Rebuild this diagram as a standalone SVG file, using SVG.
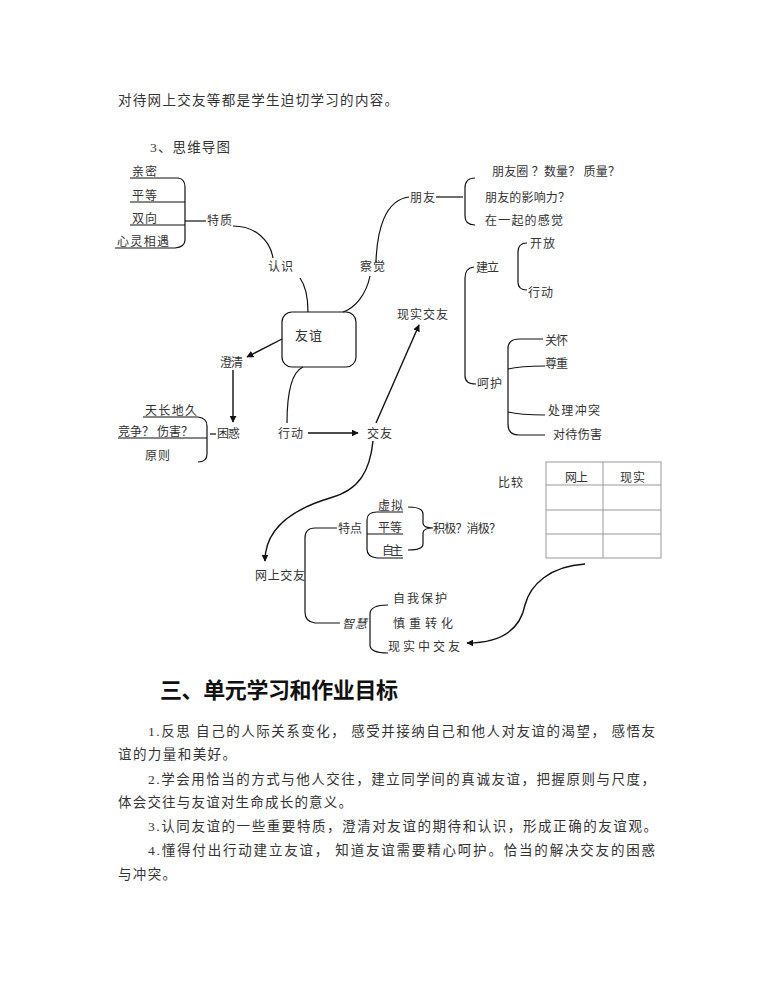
<svg xmlns="http://www.w3.org/2000/svg" width="770" height="1000" viewBox="0 0 770 1000">
<style>
text{font-family:"Liberation Serif","Noto Sans CJK SC",serif;fill:#333;font-size:12px}
.p{font-size:13.5px}
.h{font-family:"Noto Sans CJK SC",sans-serif;font-size:22px;font-weight:bold;fill:#111}
.l{fill:none;stroke:#111;stroke-width:1.2}
.a{fill:none;stroke:#111;stroke-width:1.4;marker-end:url(#ah)}
.g{fill:none;stroke:#999;stroke-width:1}
</style>
<defs>
<marker id="ah" viewBox="0 0 10 10" refX="9" refY="5" markerWidth="7" markerHeight="7" orient="auto" markerUnits="userSpaceOnUse">
<path d="M0,0 L10,5 L0,10 z" fill="#111"/>
</marker>
</defs>
<rect width="770" height="1000" fill="#fff"/>
<text class="p" x="118" y="105" textLength="280">对待网上交友等都是学生迫切学习的内容。</text>
<text class="p" x="150" y="152" textLength="80">3、思维导图</text>

<g id="connectors">
<path class="l" d="M130,178 H178 Q185,179 185,187 V240 Q185,247 175,248 H115"/>
<path class="l" d="M130,202 H185"/>
<path class="l" d="M130,225 H185"/>
<path class="l" d="M185,221 H206"/>
<path class="l" d="M233,226 C255,226 270,240 273,258"/>
<path class="l" d="M300,278 C305,285 308,295 308,312"/>
<path class="l" d="M343,312 C355,308 366,295 370,276"/>
<path class="l" d="M376,262 C377,230 385,200 409,197"/>
<path class="l" d="M436,197 H463"/>
<path class="l" d="M475,178 Q465,178 465,188 V216 Q465,225 475,225"/>
<path class="l" d="M474,267 Q465,268 465,278 V376 Q465,384 476,384"/>
<path class="l" d="M527,243 Q518,243 518,252 V282 Q518,290 527,290"/>
<path class="l" d="M543,339 H519 Q508,339 508,349 V424 Q508,435 519,435 H545"/>
<path class="l" d="M508,369 Q520,366 545,366"/>
<path class="l" d="M508,412 Q520,415 545,415"/>
<path class="a" d="M282,339 L247,357"/>
<path class="a" d="M233,370 L233,422"/>
<path class="l" d="M210,434 H216"/>
<path class="l" d="M143,417 H198 Q207,418 207,426 V454 Q207,462 198,462"/>
<path class="l" d="M118,438 H207"/>
<path class="l" d="M303,367 C292,372 287,390 287,423"/>
<path class="a" d="M308,433 L358,433"/>
<path class="a" d="M376,423 L419,325"/>
<path class="a" d="M373,441 C370,470 360,490 330,498 C290,510 265,530 265,561"/>
<path class="l" d="M337,528 H315 Q305,528 305,538 V612 Q305,622 315,623 H340"/>
<path class="l" d="M403,512 H377 Q367,512 367,520 V549 Q367,557 377,558 H403"/>
<path class="l" d="M367,534 H403"/>
<path class="l" d="M408,507 Q423,507 423,514 V523 Q423,528 433,528 Q423,528 423,533 V544 Q423,550 408,550"/>
<path class="l" d="M388,605 Q370,605 370,614 V645 Q370,653 388,653"/>
<path class="a" d="M585,564 C550,566 530,585 525,605 C520,630 500,643 467,643"/>
</g>

<g id="n-qinmi"><text x="132" y="176" textLength="25">亲密</text></g>
<g id="n-pingdeng1"><text x="132" y="200" textLength="25">平等</text></g>
<g id="n-shuangxiang"><text x="132" y="223" textLength="25">双向</text></g>
<g id="n-xinling"><text x="117" y="246" textLength="52">心灵相遇</text></g>
<g id="n-tezhi"><text x="207" y="225" textLength="25">特质</text></g>
<g id="n-renshi"><text x="268" y="271" textLength="25">认识</text></g>
<g id="n-youyi"><rect class="l" x="282" y="312" width="74" height="55" rx="10"/><text x="295" y="340" textLength="27" style="font-size:13px">友谊</text></g>
<g id="n-chajue"><text x="360" y="271" textLength="25">察觉</text></g>
<g id="n-pengyou"><text x="410" y="202" textLength="25">朋友</text></g>
<g id="n-pyq"><text x="492" y="176" textLength="128">朋友圈 ？数量？ 质量？</text></g>
<g id="n-yingxiang"><text x="485" y="202" textLength="85">朋友的影响力？</text></g>
<g id="n-ganjue"><text x="485" y="225" textLength="78">在一起的感觉</text></g>
<g id="n-jianli"><text x="476" y="272" textLength="23">建立</text></g>
<g id="n-kaifang"><text x="530" y="248" textLength="25">开放</text></g>
<g id="n-xingdong2"><text x="528" y="297" textLength="25">行动</text></g>
<g id="n-hehu"><text x="477" y="388" textLength="25">呵护</text></g>
<g id="n-guanhuai"><text x="545" y="345" textLength="23">关怀</text></g>
<g id="n-zunzhong"><text x="545" y="368" textLength="23">尊重</text></g>
<g id="n-chongtu"><text x="548" y="415" textLength="52">处理冲突</text></g>
<g id="n-shanghai"><text x="553" y="439" textLength="49">对待伤害</text></g>
<g id="n-chengqing"><text x="220" y="367" textLength="23">澄清</text></g>
<g id="n-kunhuo"><text x="217" y="438" textLength="23">困惑</text></g>
<g id="n-tianchang"><text x="145" y="415" textLength="52">天长地久</text></g>
<g id="n-jingzheng"><text x="118" y="436" textLength="75">竞争？ 伤害？</text></g>
<g id="n-yuanze"><text x="145" y="460" textLength="25">原则</text></g>
<g id="n-xingdong"><text x="278" y="438" textLength="25">行动</text></g>
<g id="n-jiaoyou"><text x="367" y="438" textLength="25">交友</text></g>
<g id="n-xianshi"><text x="397" y="319" textLength="51">现实交友</text></g>
<g id="n-wangshang"><text x="255" y="580" textLength="50">网上交友</text></g>
<g id="n-tedian"><text x="338" y="533" textLength="24">特点</text></g>
<g id="n-xuni"><text x="378" y="510" textLength="25">虚拟</text></g>
<g id="n-pingdeng2"><text x="378" y="532" textLength="24">平等</text></g>
<g id="n-zizhu"><text x="382" y="555" textLength="21">自主</text></g>
<g id="n-jiji"><text x="433" y="533" textLength="68">积极？消极？</text></g>
<g id="n-zhihui"><text x="342" y="628" textLength="25" font-style="italic">智慧</text></g>
<g id="n-baohu"><text x="393" y="603" textLength="54">自我保护</text></g>
<g id="n-shenzhong"><text x="393" y="628" textLength="60">慎重转化</text></g>
<g id="n-xianshizhong"><text x="388" y="651" textLength="72">现实中交友</text></g>
<g id="n-bijiao"><text x="498" y="487" textLength="25">比较</text></g>
<g id="n-table">
<rect class="g" x="546" y="462" width="115" height="96"/>
<path class="g" d="M546,485 H661 M546,510 H661 M546,534 H661 M603,462 V558"/>
<text x="565" y="482" textLength="23">网上</text>
<text x="620" y="482" textLength="25">现实</text>
</g>

<text class="h" x="160" y="698" textLength="238">三、单元学习和作业目标</text>
<text class="p" x="148" y="736" textLength="507">1.反思 自己的人际关系变化， 感受并接纳自己和他人对友谊的渴望， 感悟友</text>
<text class="p" x="118" y="759" textLength="118">谊的力量和美好。</text>
<text class="p" x="148" y="784" textLength="507">2.学会用恰当的方式与他人交往，建立同学间的真诚友谊，把握原则与尺度，</text>
<text class="p" x="118" y="807" textLength="234">体会交往与友谊对生命成长的意义。</text>
<text class="p" x="148" y="831" textLength="509">3.认同友谊的一些重要特质，澄清对友谊的期待和认识，形成正确的友谊观。</text>
<text class="p" x="148" y="855" textLength="507">4.懂得付出行动建立友谊， 知道友谊需要精心呵护。恰当的解决交友的困惑</text>
<text class="p" x="118" y="879" textLength="58">与冲突。</text>
</svg>
